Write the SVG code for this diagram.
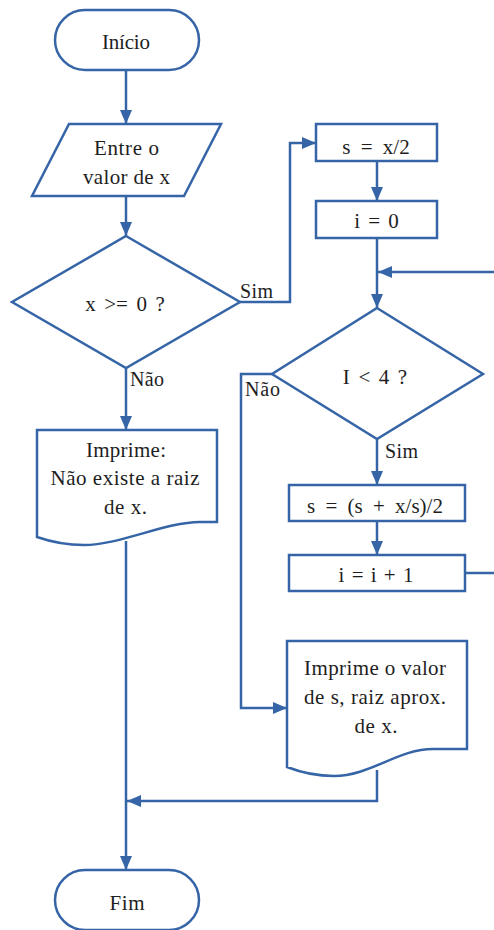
<svg xmlns="http://www.w3.org/2000/svg" width="494" height="930" viewBox="0 0 494 930">
<style>
.s{fill:#fff;stroke:#3565a6;stroke-width:2.5;stroke-linejoin:miter}
.c{fill:none;stroke:#3565a6;stroke-width:2.5}
text{font-family:'Liberation Serif','Times New Roman','DejaVu Serif',serif;font-size:21px;fill:#1e1e1e}
.l{font-size:20px}
.m{text-anchor:middle}
</style>
<defs>
<marker id="a" markerUnits="userSpaceOnUse" markerWidth="14" markerHeight="12" refX="14" refY="6" orient="auto">
<path d="M0,0 L14,6 L0,12 z" fill="#3565a6"/>
</marker>
</defs>
<g id="connectors">
<path class="c" d="M126,70 V124" marker-end="url(#a)"/>
<path class="c" d="M126,196 V236" marker-end="url(#a)"/>
<path class="c" d="M240,302 H290 V143 H316" marker-end="url(#a)"/>
<path class="c" d="M377,161 V201" marker-end="url(#a)"/>
<path class="c" d="M377,238 V308" marker-end="url(#a)"/>
<path class="c" d="M494,272 H378" marker-end="url(#a)"/>
<path class="c" d="M377,439 V485" marker-end="url(#a)"/>
<path class="c" d="M377,521 V555" marker-end="url(#a)"/>
<path class="c" d="M465,573 H494"/>
<path class="c" d="M272,374 H241 V708 H287" marker-end="url(#a)"/>
<path class="c" d="M126,368 V430" marker-end="url(#a)"/>
<path class="c" d="M126,541 V870" marker-end="url(#a)"/>
<path class="c" d="M377,770 V801 H127" marker-end="url(#a)"/>
<text class="l" x="240" y="298" textLength="33" lengthAdjust="spacing">Sim</text>
<text class="l" x="130" y="386" textLength="34" lengthAdjust="spacing">Não</text>
<text class="l" x="245" y="396" textLength="35" lengthAdjust="spacing">Não</text>
<text class="l" x="385" y="458" textLength="33" lengthAdjust="spacing">Sim</text>
</g>
<g id="inicio">
<rect class="s" x="55" y="10" width="144" height="60" rx="30" ry="30"/>
<text class="m" x="126" y="49" textLength="48" lengthAdjust="spacing">Início</text>
</g>
<g id="entrada">
<path class="s" d="M69,124 H221 L184,196 H32 Z"/>
<text class="m" x="126.5" y="155" textLength="65" lengthAdjust="spacing">Entre o</text>
<text class="m" x="126.5" y="184" textLength="87" lengthAdjust="spacing">valor de x</text>
</g>
<g id="decisao1">
<path class="s" d="M126,236 L240,302 L126,368 L12,302 Z"/>
<text class="m" x="125" y="311" word-spacing="3.3">x &gt;= 0 ?</text>
</g>
<g id="s_init">
<rect class="s" x="316" y="124" width="121" height="37"/>
<text class="m" x="376" y="154" word-spacing="5">s = x/2</text>
</g>
<g id="i_init">
<rect class="s" x="316" y="201" width="121" height="37"/>
<text class="m" x="376.5" y="228" word-spacing="3">i = 0</text>
</g>
<g id="decisao2">
<path class="s" d="M377,308 L483,374 L377,439 L272,374 Z"/>
<text class="m" x="375" y="384" word-spacing="3.3">I &lt; 4 ?</text>
</g>
<g id="s_update">
<rect class="s" x="289" y="485" width="176" height="36"/>
<text class="m" x="375" y="513" word-spacing="5">s = (s + x/s)/2</text>
</g>
<g id="i_update">
<rect class="s" x="289" y="555" width="176" height="36"/>
<text class="m" x="376" y="582" word-spacing="2">i = i + 1</text>
</g>
<g id="doc1">
<path class="s" d="M37,430 H217 V522 H200 C165,522 120,545 84,545 Q60,545 37,537 Z"/>
<text class="m" x="126" y="457" textLength="80" lengthAdjust="spacing">Imprime:</text>
<text class="m" x="125" y="485" textLength="149" lengthAdjust="spacing">Não existe a raiz</text>
<text class="m" x="125.5" y="514" textLength="43" lengthAdjust="spacing">de x.</text>
</g>
<g id="doc2">
<path class="s" d="M287,641 H467 V749 H433 C398,749 370,776 334,776 Q310,776 287,767 Z"/>
<text class="m" x="375" y="675" textLength="142" lengthAdjust="spacing">Imprime o valor</text>
<text class="m" x="375" y="704" textLength="142" lengthAdjust="spacing">de s, raiz aprox.</text>
<text class="m" x="376" y="733" textLength="43" lengthAdjust="spacing">de x.</text>
</g>
<g id="fim">
<rect class="s" x="55" y="870" width="144" height="60" rx="30" ry="30"/>
<text class="m" x="127" y="910" textLength="35" lengthAdjust="spacing">Fim</text>
</g>
</svg>
